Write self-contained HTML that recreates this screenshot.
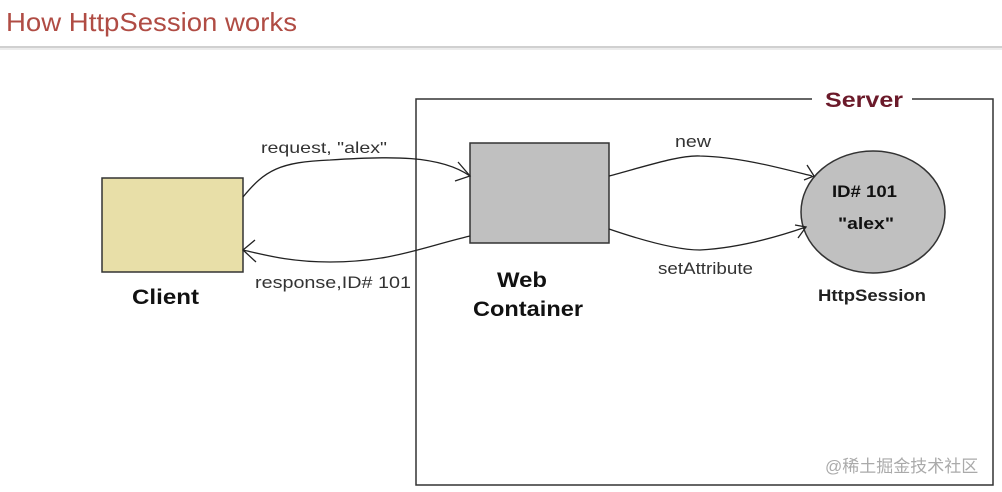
<!DOCTYPE html>
<html><head><meta charset="utf-8"><style>
body{margin:0;background:#fff;}
svg{display:block;font-family:"Liberation Sans",Arial,sans-serif;}
</style></head><body>
<svg width="1002" height="492" viewBox="0 0 1002 492">
<text x="6" y="31" font-size="26" fill="#b04c44" textLength="291" lengthAdjust="spacingAndGlyphs">How HttpSession works</text>
<rect x="0" y="46" width="1002" height="2" fill="#d0d0d0"/>
<rect x="0" y="48" width="1002" height="2" fill="#ececec"/>
<polyline points="812,99 416,99 416,485 993,485 993,99 912,99" fill="none" stroke="#333" stroke-width="1.5"/>
<text x="825" y="107" font-size="21" font-weight="bold" fill="#6b1a2a" textLength="78" lengthAdjust="spacingAndGlyphs">Server</text>
<rect x="102" y="178" width="141" height="94" fill="#e8dfa8" stroke="#333" stroke-width="1.5"/>
<text x="132" y="304" font-size="21" font-weight="bold" fill="#111" textLength="67" lengthAdjust="spacingAndGlyphs">Client</text>
<rect x="470" y="143" width="139" height="100" fill="#c0c0c0" stroke="#333" stroke-width="1.5"/>
<text x="497" y="287" font-size="21" font-weight="bold" fill="#111" textLength="50" lengthAdjust="spacingAndGlyphs">Web</text>
<text x="473" y="316" font-size="21" font-weight="bold" fill="#111" textLength="110" lengthAdjust="spacingAndGlyphs">Container</text>
<ellipse cx="873" cy="212" rx="72" ry="61" fill="#c0c0c0" stroke="#333" stroke-width="1.5"/>
<text x="832" y="197" font-size="17" font-weight="bold" fill="#111" textLength="65" lengthAdjust="spacingAndGlyphs">ID# 101</text>
<text x="838" y="229" font-size="17" font-weight="bold" fill="#111" textLength="56" lengthAdjust="spacingAndGlyphs">"alex"</text>
<text x="818" y="301" font-size="17" font-weight="bold" fill="#222" textLength="108" lengthAdjust="spacingAndGlyphs">HttpSession</text>
<g fill="none" stroke="#222" stroke-width="1.3">
<path d="M243,197 C265,170 280,162 330,160 C390,156 440,155 470,176"/>
<path d="M458,162 L470,176 L455,181"/>
<path d="M470,236 C420,248 390,262 330,262 C290,262 265,255 243,250"/>
<path d="M255,240 L243,250 L256,262"/>
<path d="M609,176 C650,165 680,155 700,156 C740,157 780,168 812,176"/>
<path d="M807,165 L814,176 L804,180"/>
<path d="M609,229 C650,243 680,250 700,250 C740,248 780,236 806,227"/>
<path d="M795,225 L806,227 L798,238"/>
</g>
<text x="261" y="153" font-size="16" fill="#333" textLength="126" lengthAdjust="spacingAndGlyphs">request, "alex"</text>
<text x="255" y="288" font-size="17" fill="#333" textLength="156" lengthAdjust="spacingAndGlyphs">response,ID# 101</text>
<text x="675" y="147" font-size="17" fill="#333" textLength="36" lengthAdjust="spacingAndGlyphs">new</text>
<text x="658" y="274" font-size="17" fill="#333" textLength="95" lengthAdjust="spacingAndGlyphs">setAttribute</text>
<text x="825" y="472" font-size="17" fill="#aaa" font-family="'Liberation Sans','Noto Sans CJK SC',sans-serif">@稀土掘金技术社区</text>
</svg>
</body></html>
